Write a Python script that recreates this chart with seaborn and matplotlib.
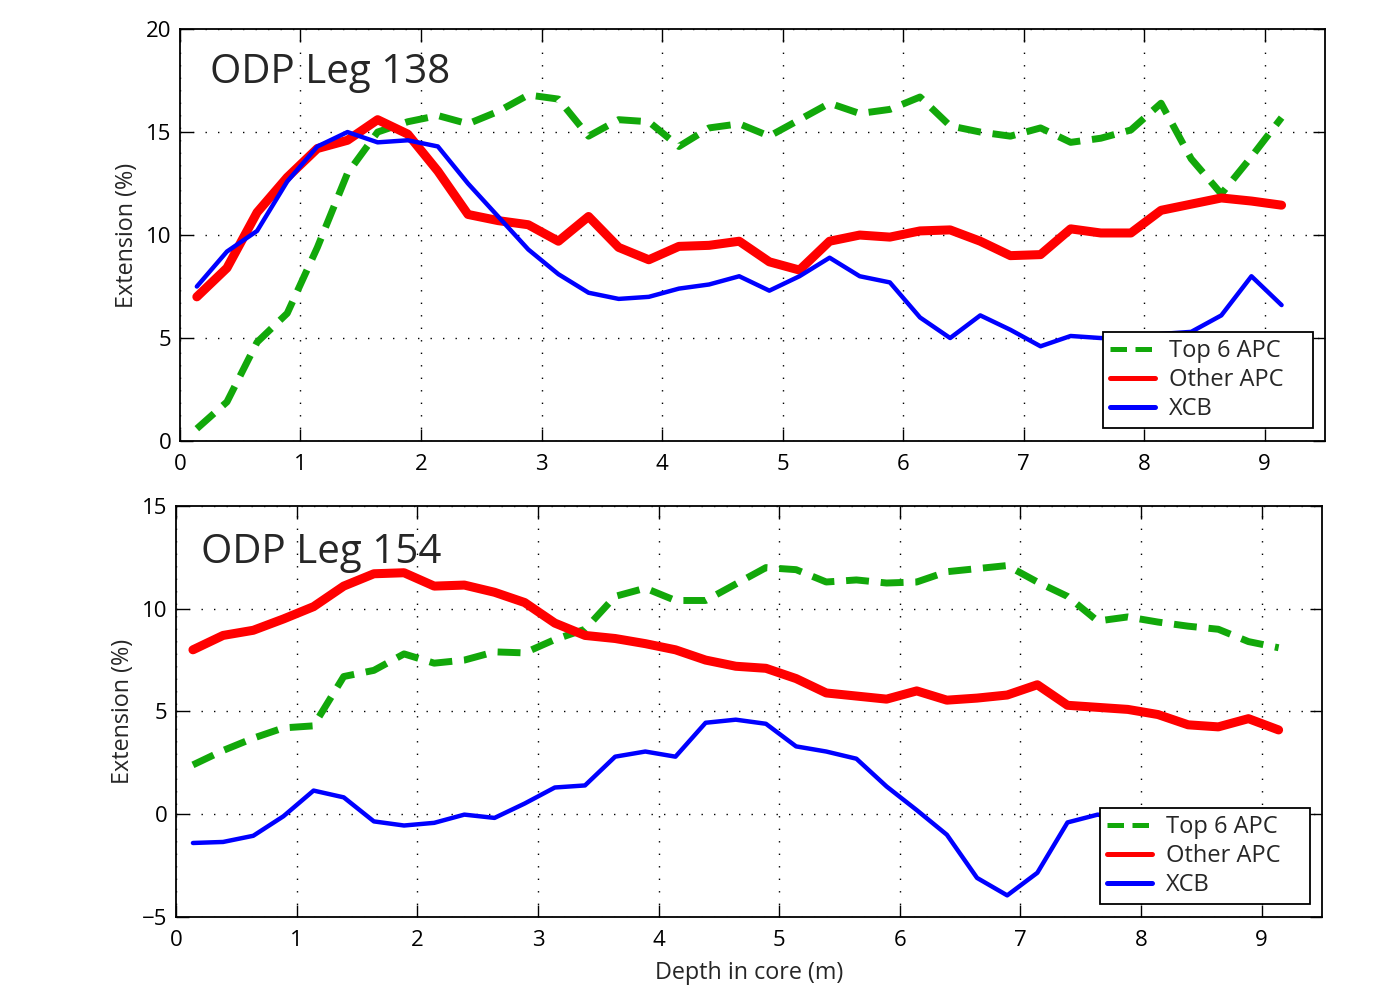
import numpy as np
import matplotlib
matplotlib.use("Agg")
import matplotlib.pyplot as plt
import seaborn as sns

# ---------------- data ----------------
depth = [0.14, 0.39, 0.64, 0.89, 1.14, 1.39, 1.64, 1.89, 2.14, 2.39, 2.64, 2.89,
         3.14, 3.39, 3.64, 3.89, 4.14, 4.39, 4.64, 4.89, 5.14, 5.39, 5.64, 5.89,
         6.14, 6.39, 6.64, 6.89, 7.14, 7.39, 7.64, 7.89, 8.14, 8.39, 8.64, 8.89, 9.14]

leg138_top6 = [0.6, 1.9, 4.8, 6.2, 9.4, 13.0, 15.0, 15.5, 15.8, 15.4, 16.0, 16.8,
               16.6, 14.8, 15.6, 15.5, 14.3, 15.2, 15.4, 14.8, 15.6, 16.4, 15.9, 16.1,
               16.7, 15.3, 15.0, 14.8, 15.2, 14.5, 14.7, 15.1, 16.4, 13.7, 12.0, 13.8, 15.7]
leg138_other = [7.0, 8.4, 11.1, 12.8, 14.2, 14.6, 15.6, 14.9, 13.1, 11.0, 10.7, 10.5,
                9.7, 10.9, 9.4, 8.8, 9.45, 9.5, 9.7, 8.7, 8.3, 9.7, 10.0, 9.9,
                10.2, 10.25, 9.7, 9.0, 9.05, 10.3, 10.1, 10.1, 11.2, 11.5, 11.8, 11.65, 11.45]
leg138_xcb = [7.5, 9.2, 10.2, 12.6, 14.3, 15.0, 14.5, 14.6, 14.3, 12.5, 10.9, 9.3,
              8.1, 7.2, 6.9, 7.0, 7.4, 7.6, 8.0, 7.3, 8.0, 8.9, 8.0, 7.7,
              6.0, 5.0, 6.1, 5.4, 4.6, 5.1, 5.0, 5.0, 5.2, 5.3, 6.1, 8.0, 6.6]

leg154_top6 = [2.4, 3.1, 3.7, 4.2, 4.3, 6.7, 7.0, 7.8, 7.35, 7.5, 7.9, 7.85,
               8.5, 9.0, 10.6, 11.0, 10.4, 10.4, 11.2, 12.0, 11.9, 11.3, 11.4, 11.25,
               11.3, 11.8, 11.95, 12.1, 11.3, 10.6, 9.4, 9.6, 9.35, 9.15, 9.0, 8.4, 8.1]
leg154_other = [8.0, 8.7, 8.95, 9.5, 10.1, 11.1, 11.7, 11.75, 11.1, 11.15, 10.8, 10.3,
                9.3, 8.7, 8.55, 8.3, 8.0, 7.5, 7.2, 7.1, 6.6, 5.9, 5.75, 5.6,
                6.0, 5.55, 5.65, 5.8, 6.3, 5.3, 5.2, 5.1, 4.85, 4.35, 4.25, 4.65, 4.1]
leg154_xcb = [-1.4, -1.35, -1.05, -0.1, 1.15, 0.82, -0.35, -0.55, -0.42, -0.02, -0.18, 0.52,
              1.3, 1.4, 2.8, 3.05, 2.8, 4.45, 4.6, 4.4, 3.3, 3.05, 2.7, 1.35,
              0.2, -1.0, -3.1, -3.95, -2.85, -0.4, -0.02, -0.3, -0.6, -0.9, -1.1, -1.3, -1.5]

series_names = ["Top 6 APC", "Other APC", "XCB"]
panel_titles = ["ODP Leg 138", "ODP Leg 154"]
xticks = list(range(10))
yticks_top = [0, 5, 10, 15, 20]
yticks_bot = [-5, 0, 5, 10, 15]

# ---------------- style ----------------
sns.set_style("ticks")
plt.rcParams["font.family"] = ["Open Sans", "DejaVu Sans"]
plt.rcParams["axes.unicode_minus"] = True

GREEN = "#12a80a"
RED = "#ff0000"
BLUE = "#0000ff"

fig = plt.figure(figsize=(13.95, 9.88), dpi=100)
ax1 = fig.add_axes([0.1290, 0.5536, 0.8208, 0.4170])
ax2 = fig.add_axes([0.1262, 0.0719, 0.8215, 0.4160])

panels = [
    (ax1, leg138_top6, leg138_other, leg138_xcb, (0, 20), yticks_top, panel_titles[0], (0.026, 0.895)),
    (ax2, leg154_top6, leg154_other, leg154_xcb, (-5, 15), yticks_bot, panel_titles[1], (0.022, 0.887)),
]

for ax, g, r, b, ylim, yt, title, tpos in panels:
    sns.lineplot(x=depth, y=g, ax=ax, color=GREEN, linewidth=5.0,
                 linestyle=(0, (3.3, 1.7)), label=series_names[0])
    sns.lineplot(x=depth, y=r, ax=ax, color=RED, linewidth=6.5,
                 label=series_names[1])
    sns.lineplot(x=depth, y=b, ax=ax, color=BLUE, linewidth=3.2,
                 label=series_names[2])
    ax.set_xlim(0, 9.5)
    ax.set_ylim(*ylim)
    ax.set_xticks(xticks)
    ax.set_yticks(yt)
    ax.grid(True, color="black", linestyle=(0, (1, 8)), linewidth=1.0)
    ax.tick_params(direction="in", length=9, width=1, top=True, right=True,
                   labelsize=16, colors="black")
    ax.tick_params(axis="x", pad=9.5)
    ax.tick_params(axis="y", pad=6)
    for sp in ax.spines.values():
        sp.set_visible(True)
        sp.set_linewidth(1.3)
        sp.set_color("black")
    ax.set_ylabel("Extension (%)", fontsize=16.8, labelpad=5)
    ax.text(tpos[0], tpos[1], title, transform=ax.transAxes, fontsize=29,
            ha="left", va="center")
    leg = ax.legend(loc="lower right", bbox_to_anchor=(0.806, 0.0316, 0.1834, 0.3),
                    mode="expand",
                    fontsize=17, frameon=True, fancybox=False, framealpha=1,
                    edgecolor="black", handlelength=1.9, handletextpad=0.6,
                    borderpad=0.3, labelspacing=0.2, borderaxespad=0)
    leg.get_frame().set_linewidth(1.3)
    for ln in leg.get_lines():
        ln.set_linewidth(3.6)

ax1.set_xlabel("")
ax2.set_xlabel("Depth in core (m)", fontsize=16.8, labelpad=7)

fig.savefig("out.png", dpi=100)
